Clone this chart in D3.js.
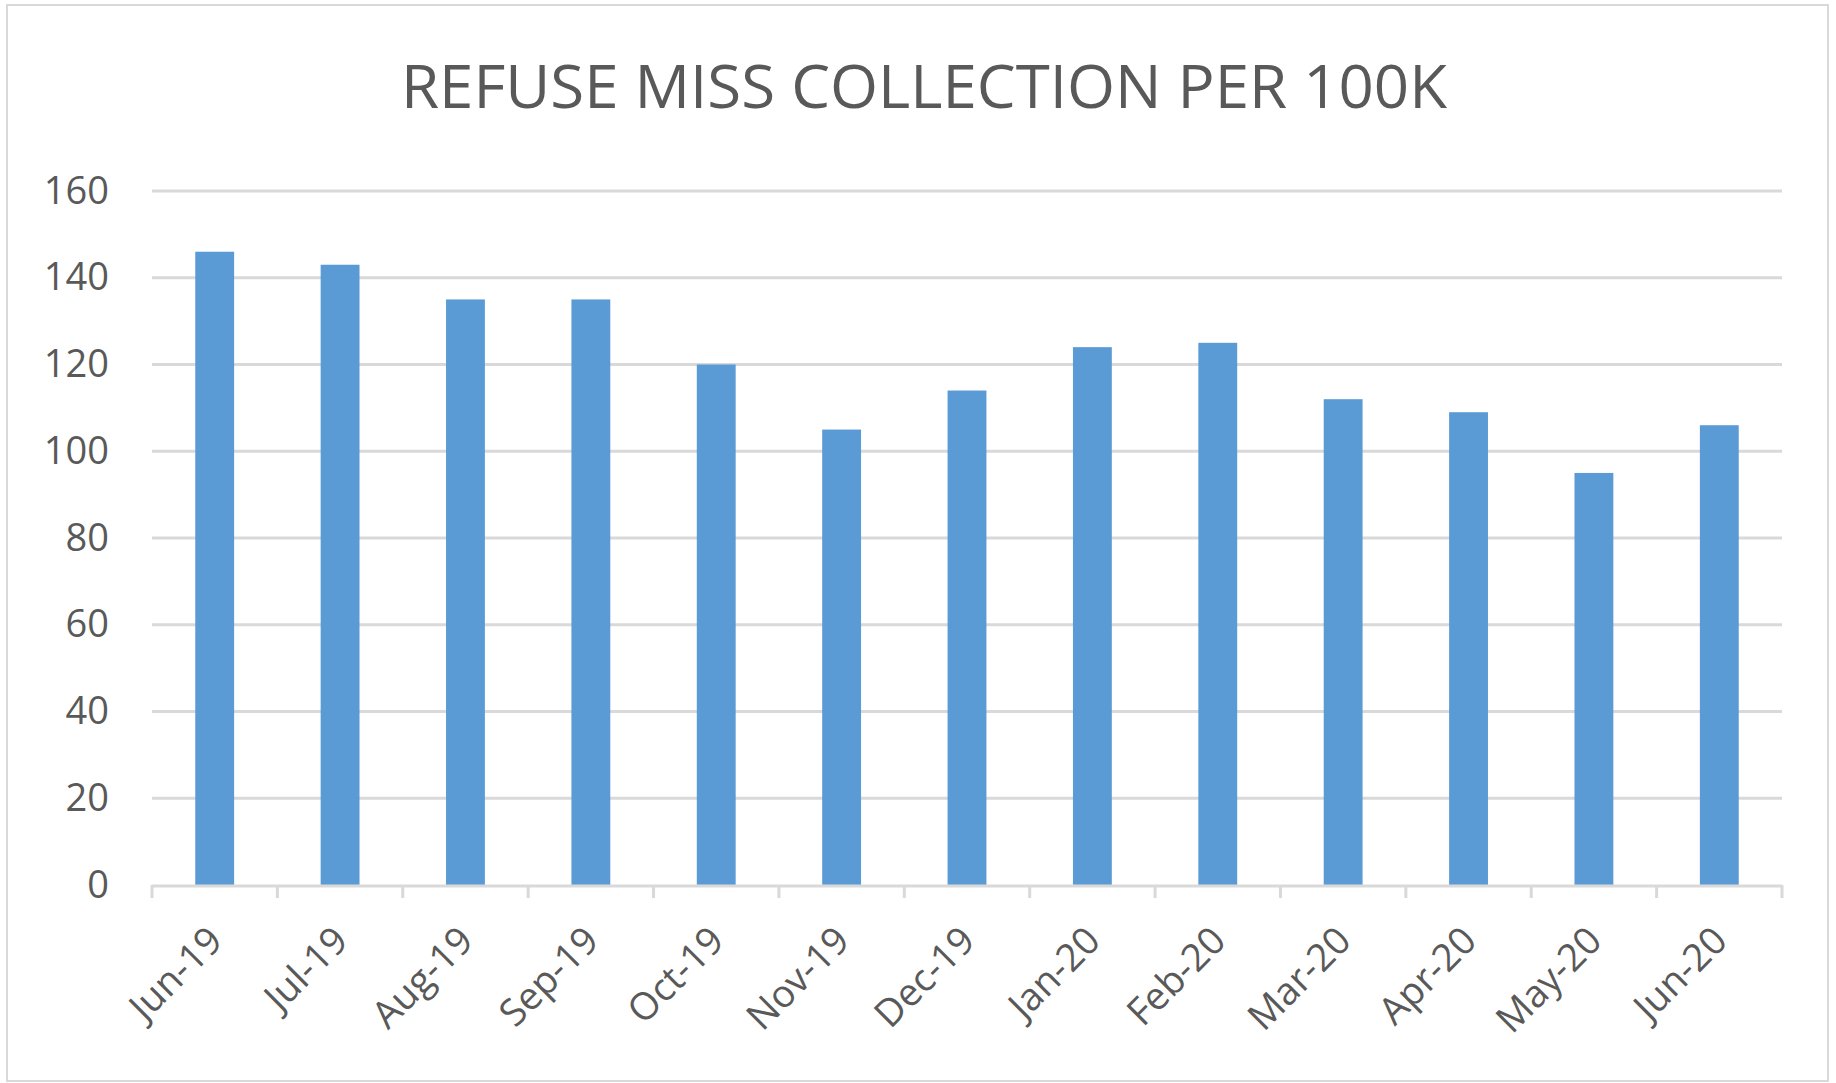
<!DOCTYPE html>
<html>
<head>
    <meta charset="utf-8">
    <script src="https://d3js.org/d3.v7.min.js"></script>
    <style>
        body { margin: 0; background: #fff; }
        text { font-family: "Open Sans", sans-serif; fill: #595959; }
    </style>
    <title>Refuse miss collection</title>
</head>
<body>
    <div id="chart"></div>
<script>
    // data
    const months = ["Jun-19", "Jul-19", "Aug-19", "Sep-19", "Oct-19", "Nov-19", "Dec-19",
        "Jan-20", "Feb-20", "Mar-20", "Apr-20", "May-20", "Jun-20"];
    const missed = [146, 143, 135, 135, 120, 105, 114, 124, 125, 112, 109, 95, 106];
    const yTicks = [0, 20, 40, 60, 80, 100, 120, 140, 160];
    const chartTitle = "REFUSE MISS COLLECTION PER 100K";

    const width = 1836, height = 1083;
    const margin = { top: 191, bottom: 198, left: 152, right: 54 };

    const svg = d3.select("#chart").append("svg")
        .attr("width", width)
        .attr("height", height);

    // chart frame
    svg.append("rect")
        .attr("x", 7).attr("y", 5)
        .attr("width", 1821).attr("height", 1076)
        .attr("fill", "#fff")
        .attr("stroke", "#d9d9d9")
        .attr("stroke-width", 2);

    const xScale = d3.scaleBand()
        .domain(months)
        .range([margin.left, width - margin.right])
        .paddingInner(0.69)
        .paddingOuter(0.345);

    const yScale = d3.scaleLinear()
        .domain([0, 160])
        .range([height - margin.bottom, margin.top]);

    // gridlines
    svg.append("g")
        .selectAll("line")
        .data(yTicks.filter(d => d > 0))
        .join("line")
        .attr("x1", margin.left)
        .attr("x2", width - margin.right)
        .attr("y1", d => yScale(d))
        .attr("y2", d => yScale(d))
        .attr("stroke", "#d9d9d9")
        .attr("stroke-width", 3);

    // y labels
    const yAxis = svg.append("g")
        .attr("transform", "translate(" + (margin.left - 43) + ",0)")
        .call(d3.axisLeft(yScale).tickValues(yTicks).tickSize(0).tickPadding(0));
    yAxis.select(".domain").remove();
    yAxis.selectAll("text")
        .style("font-size", "38px")
        .attr("fill", "#595959");

    // bars
    svg.append("g")
        .selectAll("rect")
        .data(missed)
        .join("rect")
        .attr("x", (d, i) => xScale(months[i]))
        .attr("width", xScale.bandwidth())
        .attr("y", d => yScale(d))
        .attr("height", d => yScale(0) - yScale(d))
        .attr("fill", "#5b9bd5");

    // x axis with boundary ticks
    const step = xScale.step();
    const boundaries = d3.range(months.length + 1).map(i => margin.left + i * step);
    const xAxis = svg.append("g");
    xAxis.append("line")
        .attr("x1", margin.left).attr("x2", width - margin.right)
        .attr("y1", yScale(0) + 1).attr("y2", yScale(0) + 1)
        .attr("stroke", "#d9d9d9").attr("stroke-width", 3);
    xAxis.selectAll(".tk")
        .data(boundaries)
        .join("line")
        .attr("class", "tk")
        .attr("x1", d => d).attr("x2", d => d)
        .attr("y1", yScale(0)).attr("y2", yScale(0) + 13)
        .attr("stroke", "#d9d9d9").attr("stroke-width", 3);

    xAxis.selectAll(".lbl")
        .data(months)
        .join("text")
        .attr("class", "lbl")
        .attr("text-anchor", "end")
        .attr("transform", d => "translate(" + (xScale(d) + xScale.bandwidth() / 2 + 10) + "," + (yScale(0) + 58) + ") rotate(-45)")
        .style("font-size", "38px")
        .text(d => d);

    // title
    svg.append("text")
        .attr("x", 924)
        .attr("y", 108)
        .attr("text-anchor", "middle")
        .attr("textLength", 1046)
        .attr("lengthAdjust", "spacingAndGlyphs")
        .style("font-size", "61px")
        .text(chartTitle);
</script>
</body>
</html>
